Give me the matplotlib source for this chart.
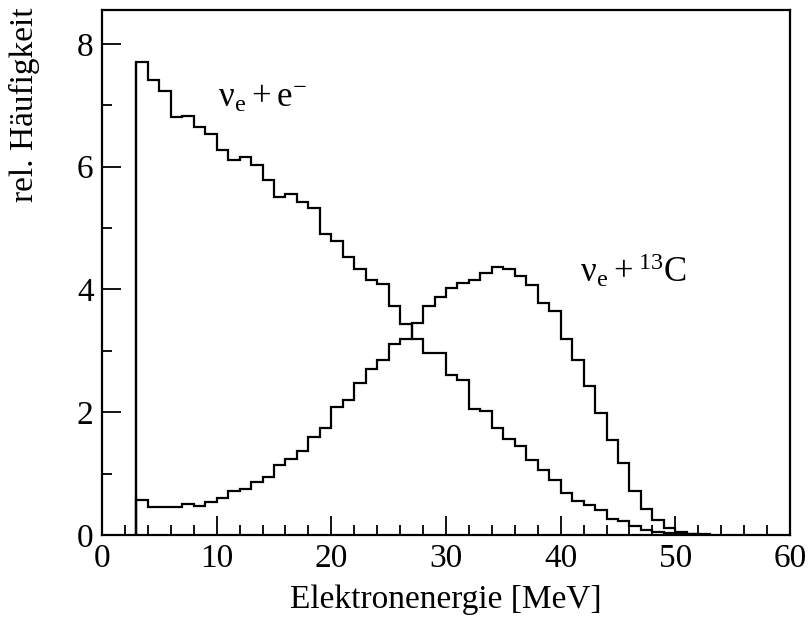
import matplotlib.pyplot as plt
import numpy as np

plt.rcParams['font.family'] = ['Liberation Serif', 'DejaVu Serif']
plt.rcParams['mathtext.fontset'] = 'custom'
plt.rcParams['mathtext.rm'] = 'Liberation Serif'
plt.rcParams['mathtext.it'] = 'Liberation Serif:italic'

# bin edges: 1 MeV bins starting at 3 MeV
edges = np.arange(3, 54, 1)

# nu_e + e-  (elastic scattering)
elastic = [7.70, 7.41, 7.23, 6.80, 6.83, 6.65, 6.53, 6.27, 6.10, 6.15,
           6.03, 5.78, 5.50, 5.55, 5.43, 5.33, 4.90, 4.78, 4.53, 4.33,
           4.15, 4.09, 3.73, 3.44, 3.19, 2.97, 2.96, 2.61, 2.52, 2.06,
           2.02, 1.75, 1.56, 1.45, 1.22, 1.06, 0.90, 0.69, 0.55, 0.49,
           0.41, 0.26, 0.22, 0.15, 0.08, 0.05, 0.03, 0.02, 0.01, 0.0]

# nu_e + 13C
carbon = [0.57, 0.45, 0.45, 0.45, 0.50, 0.47, 0.53, 0.61, 0.72, 0.75,
          0.87, 0.95, 1.14, 1.23, 1.37, 1.59, 1.75, 2.08, 2.20, 2.47,
          2.70, 2.85, 3.11, 3.19, 3.46, 3.73, 3.88, 4.03, 4.11, 4.16,
          4.27, 4.37, 4.33, 4.21, 4.07, 3.78, 3.65, 3.19, 2.85, 2.43,
          1.99, 1.55, 1.17, 0.71, 0.43, 0.24, 0.11, 0.05, 0.02, 0.01]

fig = plt.figure(figsize=(8.08, 6.18), dpi=100)
ax = fig.add_axes([0.1262, 0.1343, 0.8515, 0.8495])

ax.stairs(elastic, edges, color='black', linewidth=1.6)
ax.stairs(carbon, edges, color='black', linewidth=1.6)
# vertical edge at the threshold
ax.vlines(edges[0], 0, elastic[0], color='black', linewidth=1.6)

ax.set_xlim(0, 60)
ax.set_ylim(0, 8.55)
ax.set_xticks(np.arange(0, 61, 10))
ax.set_xticks(np.arange(0, 61, 2), minor=True)
ax.set_yticks(np.arange(0, 9, 2))
ax.set_yticks(np.arange(0, 9, 1), minor=True)
ax.tick_params(which='both', direction='in', top=False, right=False,
               labelsize=24, width=1.3)
ax.tick_params(which='major', length=14, pad=6)
ax.tick_params(which='minor', length=7)
for s in ax.spines.values():
    s.set_linewidth(1.6)

ax.set_xlabel('Elektronenergie [MeV]', fontsize=24, labelpad=8)
ax.set_ylabel('rel. Häufigkeit', fontsize=24)
ax.yaxis.set_label_coords(-0.09, 0.82)

ax.text(10.1, 6.97, r'$\mathrm{ν_e\:{+}\:e^{-}}$', fontsize=25, va='baseline')
ax.text(41.7, 4.12, r'$\mathrm{ν_e\:{+}\:{}^{13}C}$', fontsize=25, va='baseline')

fig.savefig('out.png', dpi=100)
